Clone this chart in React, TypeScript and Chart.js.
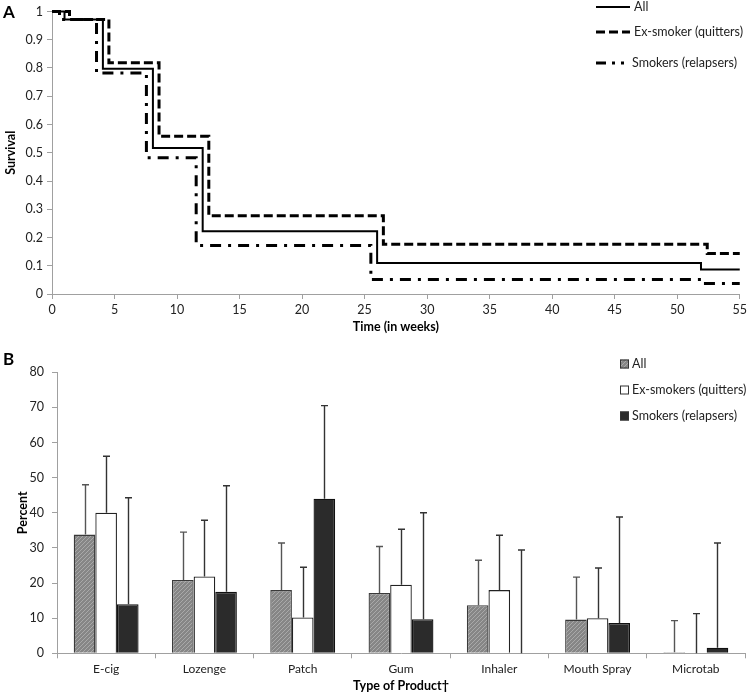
import React, { useEffect, useRef } from "react";
import { Chart, registerables } from "chart.js";
Chart.register(...registerables);

const FONT = "Lato, 'Open Sans', sans-serif";

// ---- Panel A: survival (Kaplan-Meier style steps) ----
const allWeeks = [0, 1.0, 4.07, 8.07, 12.05, 26.0, 51.9, 55];
const allSurvival = [1, 0.972, 0.797, 0.517, 0.222, 0.11, 0.087, 0.087];
const quitWeeks = [0, 1.4, 4.55, 8.56, 12.54, 26.5, 52.4, 55];
const quitSurvival = [1, 0.972, 0.819, 0.558, 0.277, 0.176, 0.143, 0.143];
const relapseWeeks = [0, 0.6, 3.56, 7.55, 11.53, 25.5, 51.9, 55];
const relapseSurvival = [1, 0.972, 0.782, 0.482, 0.172, 0.051, 0.037, 0.037];
const seriesNamesA = ["All", "Ex-smoker (quitters)", "Smokers (relapsers)"];

// ---- Panel B: product use ----
const categories = ["E-cig", "Lozenge", "Patch", "Gum", "Inhaler", "Mouth Spray", "Microtab"];
const allPct = [33.8, 20.9, 18.0, 17.2, 13.7, 9.6, 0.3];
const allUpper = [48.0, 34.5, 31.4, 30.4, 26.5, 21.7, 9.3];
const quitPct = [40.0, 21.9, 10.2, 19.5, 18.0, 10.0, 0];
const quitUpper = [56.1, 37.9, 24.5, 35.3, 33.6, 24.3, 11.3];
const relapsePct = [14.0, 17.5, 44.0, 9.7, 0, 8.6, 1.6];
const relapseUpper = [44.3, 47.7, 70.5, 40.0, 29.4, 38.8, 31.4];
const seriesNamesB = ["All", "Ex-smokers (quitters)", "Smokers (relapsers)"];

const AXIS = "#a0a0a0";
const TEXT = "#222";

function makeHatch(): CanvasPattern | string {
  const c = document.createElement("canvas");
  c.width = 4;
  c.height = 4;
  const g = c.getContext("2d");
  if (!g) return "#8f8f8f";
  g.fillStyle = "#868686";
  g.fillRect(0, 0, 4, 4);
  g.strokeStyle = "#a9a9a9";
  g.lineWidth = 1;
  g.beginPath();
  g.moveTo(-1, 5);
  g.lineTo(5, -1);
  g.stroke();
  const p = g.createPattern(c, "repeat");
  return p || "#8f8f8f";
}

const DASH_QUIT = [9, 4];
const DASH_RELAPSE = [11, 7, 3, 7];

function SurvivalChart() {
  const ref = useRef<HTMLCanvasElement | null>(null);
  useEffect(() => {
    if (!ref.current) return;
    const pts = (xs: number[], ys: number[]) => xs.map((x, i) => ({ x, y: ys[i] }));
    const legendPlugin = {
      id: "legendA",
      afterDraw(chart: any) {
        const ctx = chart.ctx as CanvasRenderingContext2D;
        ctx.save();
        ctx.fillStyle = "#000";
        ctx.font = `bold 17px ${FONT}`;
        ctx.textBaseline = "middle";
        ctx.textAlign = "left";
        ctx.fillText("A", 3, 13);
        const rows = [7, 32, 63];
        const styles = [
          { w: 2, dash: [] as number[] },
          { w: 3, dash: DASH_QUIT },
          { w: 3, dash: [10, 6, 3, 6, 3, 10] },
        ];
        rows.forEach((y, i) => {
          ctx.strokeStyle = "#000";
          ctx.lineWidth = styles[i].w;
          ctx.setLineDash(styles[i].dash);
          ctx.beginPath();
          ctx.moveTo(596, y);
          ctx.lineTo(630, y);
          ctx.stroke();
          ctx.setLineDash([]);
          ctx.fillStyle = TEXT;
          ctx.font = `12.5px ${FONT}`;
          ctx.fillText(seriesNamesA[i], i === 2 ? 632 : 634, y);
        });
        ctx.restore();
      },
    };
    const chart = new Chart(ref.current, {
      type: "line",
      data: {
        datasets: [
          {
            label: seriesNamesA[0],
            data: pts(allWeeks, allSurvival),
            stepped: "before",
            borderColor: "#000",
            borderWidth: 2,
            pointRadius: 0,
            fill: false,
          },
          {
            label: seriesNamesA[1],
            data: pts(quitWeeks, quitSurvival),
            stepped: "before",
            borderColor: "#000",
            borderWidth: 3,
            borderDash: DASH_QUIT,
            pointRadius: 0,
            fill: false,
          },
          {
            label: seriesNamesA[2],
            data: pts(relapseWeeks, relapseSurvival),
            stepped: "before",
            borderColor: "#000",
            borderWidth: 3,
            borderDash: DASH_RELAPSE,
            pointRadius: 0,
            fill: false,
          },
        ],
      },
      options: {
        responsive: false,
        animation: false,
        clip: false as any,
        layout: { padding: { top: 9, right: 8, left: 0, bottom: 0 } },
        plugins: { legend: { display: false }, tooltip: { enabled: false } },
        scales: {
          x: {
            type: "linear",
            min: 0,
            max: 55,
            ticks: { stepSize: 5, color: TEXT, font: { family: FONT, size: 12.5 }, padding: 3 },
            grid: { display: true, drawOnChartArea: false, drawTicks: true, tickLength: 5, color: AXIS },
            border: { color: AXIS, width: 1 },
            title: {
              display: true,
              text: "Time (in weeks)",
              color: "#000",
              font: { family: FONT, size: 12.5, weight: "bold" },
              padding: { top: 0, bottom: 6 },
            },
            afterFit(scale: any) {
              scale.height = 46;
            },
          },
          y: {
            min: 0,
            max: 1,
            ticks: {
              stepSize: 0.1,
              color: TEXT,
              font: { family: FONT, size: 12.5 },
              padding: 4,
              callback: (v: any) => String(Math.round(Number(v) * 10) / 10),
            },
            grid: { display: true, drawOnChartArea: false, drawTicks: true, tickLength: 5, color: AXIS },
            border: { color: AXIS, width: 1 },
            title: {
              display: true,
              text: "Survival",
              color: "#000",
              font: { family: FONT, size: 12.5, weight: "bold" },
              padding: { top: 3, bottom: 0 },
            },
            afterFit(scale: any) {
              scale.width = 52;
            },
          },
        },
      },
      plugins: [legendPlugin],
    });
    return () => chart.destroy();
  }, []);
  return (
    <canvas
      ref={ref}
      width={750}
      height={340}
      style={{ position: "absolute", left: 0, top: 0, width: 750, height: 340 }}
    />
  );
}

function ProductChart() {
  const ref = useRef<HTMLCanvasElement | null>(null);
  useEffect(() => {
    if (!ref.current) return;
    const hatch = makeHatch();
    const uppers = [allUpper, quitUpper, relapseUpper];
    const errorPlugin = {
      id: "errorBars",
      afterDatasetsDraw(chart: any) {
        const ctx = chart.ctx as CanvasRenderingContext2D;
        const yScale = chart.scales.y;
        ctx.save();
        uppers.forEach((up, di) => {
          const meta = chart.getDatasetMeta(di);
          meta.data.forEach((bar: any, i: number) => {
            const x = Math.round(bar.x) + 0.5;
            const yTop = yScale.getPixelForValue(up[i]);
            ctx.strokeStyle = di === 0 ? "#555" : "#333";
            ctx.lineWidth = 1.4;
            ctx.beginPath();
            ctx.moveTo(x, bar.y);
            ctx.lineTo(x, yTop);
            ctx.moveTo(x - 3.5, yTop);
            ctx.lineTo(x + 3.5, yTop);
            ctx.stroke();
          });
        });
        ctx.restore();
      },
      afterDraw(chart: any) {
        const ctx = chart.ctx as CanvasRenderingContext2D;
        ctx.save();
        ctx.fillStyle = "#000";
        ctx.font = `bold 17px ${FONT}`;
        ctx.textBaseline = "middle";
        ctx.textAlign = "left";
        ctx.fillText("B", 3, 25);
        const rows = [29, 55, 81];
        const fills: any[] = [hatch, "#ffffff", "#2b2b2b"];
        rows.forEach((y, i) => {
          ctx.fillStyle = fills[i];
          ctx.fillRect(620, y - 4.5, 9, 9);
          ctx.strokeStyle = "#333";
          ctx.lineWidth = 1;
          ctx.strokeRect(620.5, y - 4, 8, 8);
          ctx.fillStyle = TEXT;
          ctx.font = `12.5px ${FONT}`;
          ctx.fillText(seriesNamesB[i], 632, y);
        });
        ctx.restore();
      },
    };
    const chart = new Chart(ref.current, {
      type: "bar",
      data: {
        labels: categories,
        datasets: [
          {
            label: seriesNamesB[0],
            data: allPct,
            backgroundColor: hatch as any,
            borderColor: "#3a3a3a",
            borderWidth: 1.3,
          },
          {
            label: seriesNamesB[1],
            data: quitPct,
            backgroundColor: "#ffffff",
            borderColor: "#222",
            borderWidth: 1.3,
          },
          {
            label: seriesNamesB[2],
            data: relapsePct,
            backgroundColor: "#2b2b2b",
            borderColor: "#111",
            borderWidth: 1.3,
          },
        ],
      },
      options: {
        responsive: false,
        animation: false,
        categoryPercentage: 0.66,
        barPercentage: 1.0,
        layout: { padding: { top: 37.3, right: 5, left: 0, bottom: 0 } },
        plugins: { legend: { display: false }, tooltip: { enabled: false } },
        scales: {
          x: {
            ticks: { color: TEXT, font: { family: FONT, size: 12 }, padding: 4 },
            grid: { display: true, offset: true, drawOnChartArea: false, drawTicks: true, tickLength: 5, color: AXIS },
            border: { color: AXIS, width: 1 },
            title: {
              display: true,
              text: "Type of Product†",
              color: "#000",
              font: { family: FONT, size: 12.5, weight: "bold" },
              padding: { top: 0, bottom: 2 },
            },
            afterFit(scale: any) {
              scale.height = 41.7;
            },
          },
          y: {
            min: 0,
            max: 80,
            ticks: { stepSize: 10, color: TEXT, font: { family: FONT, size: 12.5 }, padding: 8 },
            grid: { display: true, drawOnChartArea: false, drawTicks: true, tickLength: 5, color: AXIS },
            border: { color: AXIS, width: 1 },
            title: {
              display: true,
              text: "Percent",
              color: "#000",
              font: { family: FONT, size: 12.5, weight: "bold" },
              padding: { top: 15, bottom: 0 },
            },
            afterFit(scale: any) {
              scale.width = 57;
            },
          },
        },
      },
      plugins: [errorPlugin],
    });
    return () => chart.destroy();
  }, []);
  return (
    <canvas
      ref={ref}
      width={750}
      height={360}
      style={{ position: "absolute", left: 0, top: 335, width: 750, height: 360 }}
    />
  );
}

export default function App() {
  return (
    <div style={{ position: "absolute", left: 0, top: 0, width: 750, height: 695, background: "#fff" }}>
      <SurvivalChart />
      <ProductChart />
    </div>
  );
}
